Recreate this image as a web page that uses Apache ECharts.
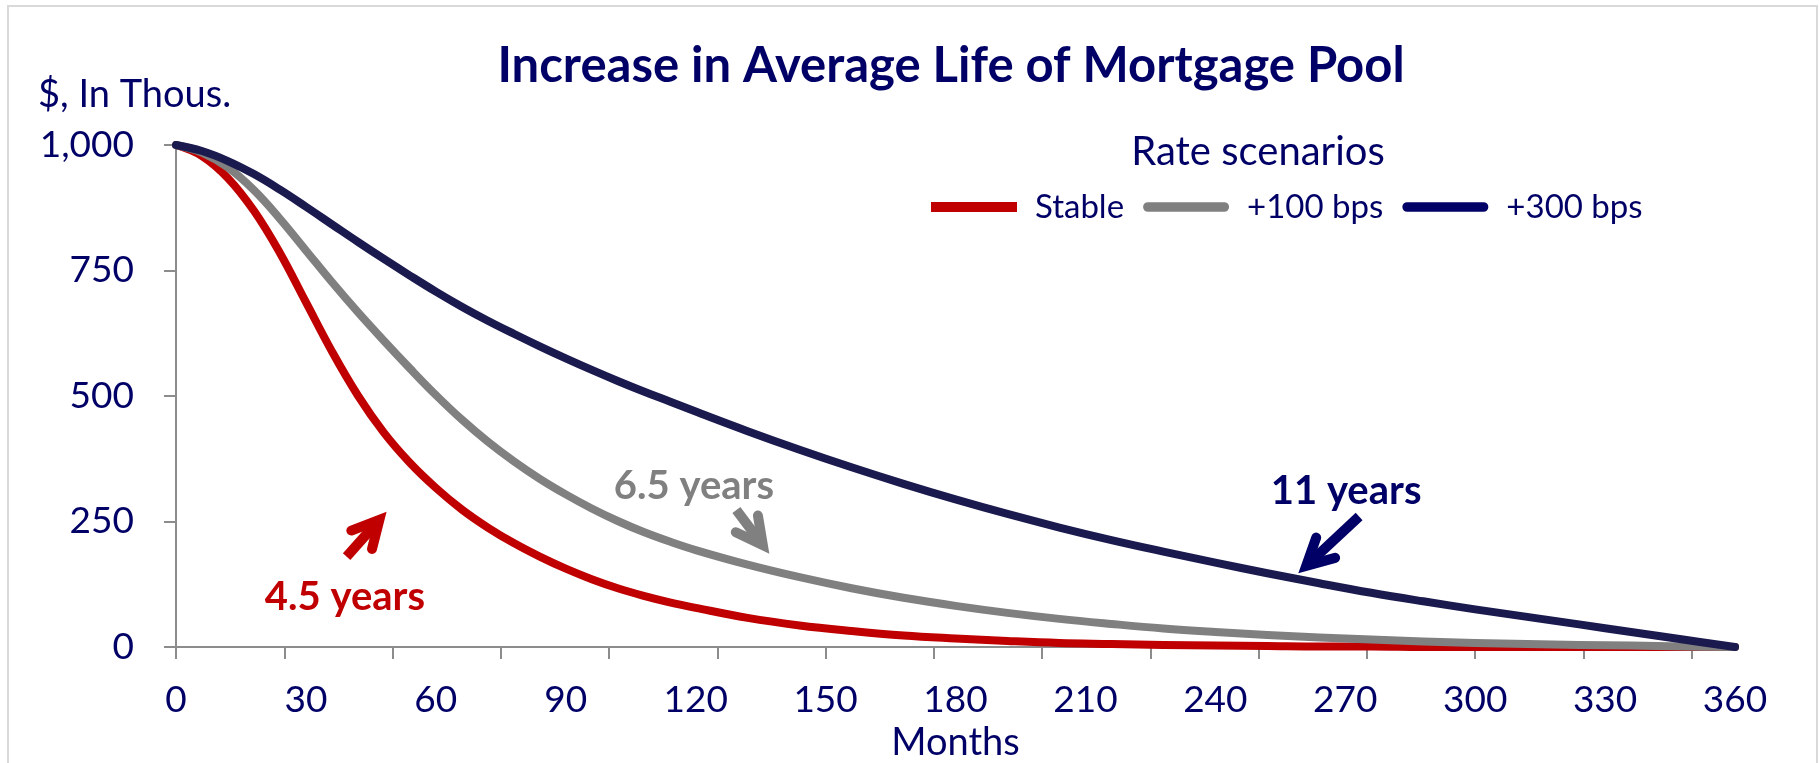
<!DOCTYPE html>
<html>
<head>
<meta charset="utf-8">
<script src="https://cdn.jsdelivr.net/npm/echarts@6/dist/echarts.min.js"></script>
<style>
  html, body { margin: 0; padding: 0; background: #fff; }
  #chart { width: 1820px; height: 763px; }
</style>
</head>
<body>
<div id="chart"></div>
<script>
// months along the x axis
const months = [0, 6, 12, 18, 24, 30, 36, 42, 48, 54, 60, 66, 72, 78, 84, 90, 96, 102, 108, 114, 120,
  132, 144, 156, 168, 180, 192, 204, 216, 228, 240, 252, 264, 276, 288, 300, 312, 324, 336, 348, 360];

// remaining balance, $ thousands
const stable = [1000, 978, 934, 869, 785, 687, 589, 501, 427, 367, 317, 274, 238, 207, 180, 156, 135, 117, 102, 89, 78,
  58, 43, 32, 23, 17, 12, 8, 6, 4, 3, 2, 1, 1, 0, 0, 0, 0, 0, 0, 0];
const plus100 = [1000, 985, 955, 910, 853, 790, 727, 667, 610, 555, 502, 453, 409, 370, 335, 304, 276, 251, 229, 210, 193,
  164, 139, 117, 98, 82, 68, 56, 46, 37, 30, 24, 19, 15, 11, 8, 6, 4, 3, 1, 0];
const plus300 = [1000, 988, 968, 942, 911, 877, 842, 807, 773, 740, 708, 678, 650, 624, 599, 575, 552, 530, 509, 489, 469,
  430, 393, 358, 325, 294, 265, 238, 213, 190, 168, 147, 127, 108, 91, 75, 60, 45, 30, 15, 0];

const seriesNames = ['Stable', '+100 bps', '+300 bps'];
const xTicks = [0, 25, 50, 75, 100, 125, 150, 175, 200, 225, 250, 275, 300, 325, 350];

const navy = '#000066';
const font = 'Lato';

// 标注: 文字位置和箭头都用数据坐标
const notes = [
  { text: '4.5 years', color: '#C00000', at: [39, 100], tail: [39.4, 180], tip: [48.5, 268] },
  { text: '6.5 years', color: '#808080', at: [119.6, 321], tail: [129.4, 273], tip: [136.9, 187] },
  { text: '11 years', color: navy, at: [270.2, 311], tail: [273.2, 260], tip: [259.3, 148] }
];

const pair = (vals) => months.map((m, i) => [m, vals[i]]);
const pill = 'path://M5,0L85,0A5,5,0,0,1,85,10L5,10A5,5,0,0,1,5,0Z';

const chart = echarts.init(document.getElementById('chart'));

const options = {
  animation: false,
  grid: { left: 176, right: 85, top: 145, bottom: 116, outerBoundsMode: 'none', containLabel: false },
  legend: {
    left: 931,
    top: 187,
    padding: 0,
    itemWidth: 86,
    itemHeight: 10,
    itemGap: 19,
    data: [
      { name: 'Stable', icon: 'rect' },
      { name: '+100 bps', icon: pill },
      { name: '+300 bps', icon: pill, itemStyle: { color: navy } }
    ],
    textStyle: { fontFamily: font, fontSize: 33, color: navy, padding: [0, 0, 0, 13], lineHeight: 40 }
  },
  xAxis: {
    type: 'value',
    min: 0,
    max: 360,
    interval: 30,
    name: 'Months',
    nameLocation: 'middle',
    nameGap: 74,
    nameTextStyle: { fontFamily: font, fontSize: 38, color: navy },
    axisLine: { lineStyle: { color: '#8C8C8C', width: 2 } },
    axisTick: { show: true, customValues: xTicks, length: 12, lineStyle: { color: '#8C8C8C', width: 2 } },
    axisLabel: { fontFamily: font, fontSize: 37, color: navy, margin: 35 },
    splitLine: { show: false }
  },
  yAxis: {
    type: 'value',
    min: 0,
    max: 1000,
    interval: 250,
    axisLine: { show: true, lineStyle: { color: '#8C8C8C', width: 2 } },
    axisTick: { show: true, length: 12, lineStyle: { color: '#8C8C8C', width: 2 } },
    axisLabel: {
      fontFamily: font, fontSize: 37, color: navy, margin: 42,
      formatter: (v) => v.toLocaleString('en-US')
    },
    splitLine: { show: false }
  },
  series: [
    { name: seriesNames[0], data: pair(stable), color: '#C00000' },
    { name: seriesNames[1], data: pair(plus100), color: '#808080' },
    { name: seriesNames[2], data: pair(plus300), color: '#1B1A4F' }
  ].map((s) => ({
    ...s,
    type: 'line',
    smooth: 0.4,
    showSymbol: false,
    lineStyle: { width: 8, cap: 'round', join: 'round' }
  }))
};
chart.setOption(options);

// 箭头
const arrow = (n) => {
  const tail = chart.convertToPixel({ gridIndex: 0 }, n.tail);
  const tip = chart.convertToPixel({ gridIndex: 0 }, n.tip);
  const ang = Math.atan2(tail[1] - tip[1], tail[0] - tip[0]);
  const w = 10;
  const back = 10;
  const t = [tip[0] + back * Math.cos(ang), tip[1] + back * Math.sin(ang)];
  const arm = 30, spread = 0.48;
  const a1 = [t[0] + arm * Math.cos(ang + spread), t[1] + arm * Math.sin(ang + spread)];
  const a2 = [t[0] + arm * Math.cos(ang - spread), t[1] + arm * Math.sin(ang - spread)];
  return [
    { type: 'line', shape: { x1: tail[0], y1: tail[1], x2: t[0], y2: t[1] },
      style: { stroke: n.color, lineWidth: w, lineCap: 'butt' }, z: 10 },
    { type: 'polyline', shape: { points: [a1, t, a2] },
      style: { stroke: n.color, fill: null, lineWidth: w, lineJoin: 'miter', miterLimit: 10, lineCap: 'round' }, z: 10 }
  ];
};

const graphics = [
  { type: 'rect', shape: { x: 8, y: 6, width: 1809, height: 770 },
    style: { fill: null, stroke: '#D9D9D9', lineWidth: 2 }, z: -1 },
  { type: 'text', x: 951, y: 66,
    style: { text: 'Increase in Average Life of Mortgage Pool', font: 'bold 49px Lato', fill: navy, align: 'center', verticalAlign: 'middle' } },
  { type: 'text', x: 38, y: 95,
    style: { text: '$, In Thous.', font: '38px Lato', fill: navy, align: 'left', verticalAlign: 'middle' } },
  { type: 'text', x: 1258, y: 152,
    style: { text: 'Rate scenarios', font: '40px Lato', fill: navy, align: 'center', verticalAlign: 'middle' } }
];
notes.forEach((n) => {
  const p = chart.convertToPixel({ gridIndex: 0 }, n.at);
  graphics.push({ type: 'text', x: p[0], y: p[1], z: 10,
    style: { text: n.text, font: 'bold 40px Lato', fill: n.color, align: 'center', verticalAlign: 'middle' } });
  graphics.push(...arrow(n));
});
chart.setOption({ graphic: graphics });
</script>
</body>
</html>
